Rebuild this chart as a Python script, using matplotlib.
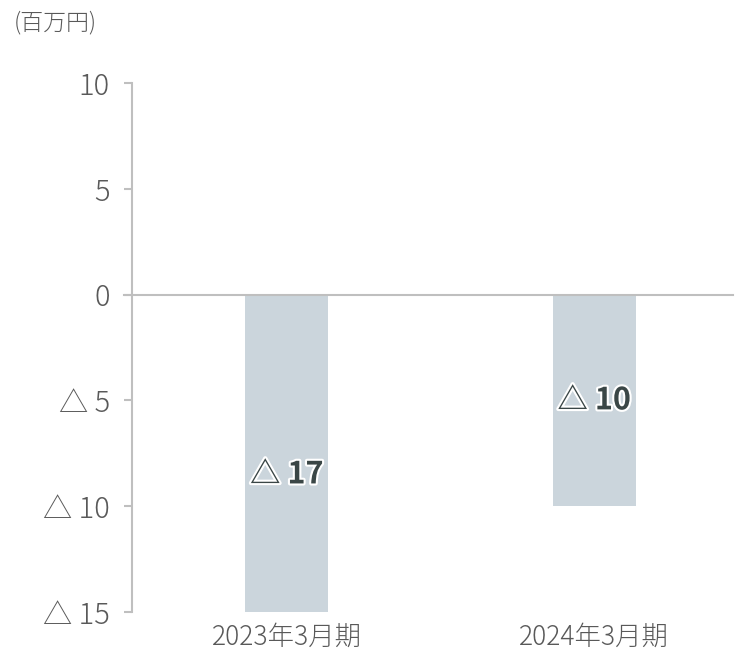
import matplotlib.pyplot as plt
import matplotlib.patheffects as pe

plt.rcParams['font.family'] = ['Noto Sans CJK JP', 'DejaVu Sans']

# データ（単位：百万円）
categories = ["2023年3月期", "2024年3月期"]
values = [-17, -10]
labels = ["△ 17", "△ 10"]
ytick_vals = [10, 5, 0, -5, -10, -15]
ytick_labels = ["10", "5", "0", "△ 5", "△ 10", "△ 15"]

bar_color = "#cbd5dc"
axis_color = "#bfbfbf"
text_color = "#595959"

fig = plt.figure(figsize=(7.35, 6.5), dpi=100)
ax = fig.add_axes([0.1796, 0.0585, 0.817, 0.8138])

x = list(range(len(categories)))
ax.bar(x, values, width=0.27, color=bar_color, zorder=2)

# バー中央にラベル（白いふち取り）
for xi, v, lab in zip(x, values, labels):
    ax.text(xi, v / 2, lab, ha="center", va="center", fontsize=22,
            fontweight="bold", color="#3a4646", zorder=4,
            path_effects=[pe.withStroke(linewidth=3, foreground="white")])

ax.set_xlim(-0.503, 1.45)
ax.set_ylim(-15, 10)
ax.set_yticks(ytick_vals)
ax.set_yticklabels(ytick_labels, fontweight="light")
ax.set_xticks(x)
ax.set_xticklabels(categories, fontweight="light")

ax.axhline(0, color=axis_color, linewidth=1.5, zorder=3, xmin=-0.013, clip_on=False)

for s in ["top", "right", "bottom"]:
    ax.spines[s].set_visible(False)
ax.spines["left"].set_color(axis_color)
ax.spines["left"].set_linewidth(1.5)

ax.tick_params(axis="y", length=6, width=1.5, color=axis_color,
               labelsize=21, labelcolor=text_color, pad=10)
ax.tick_params(axis="x", length=0, labelsize=19, labelcolor=text_color, pad=8)

fig.text(0.019, 0.965, "(百万円)", fontsize=16.5, color=text_color,
         ha="left", va="center", fontweight="light")

plt.savefig("out.png", dpi=100)
